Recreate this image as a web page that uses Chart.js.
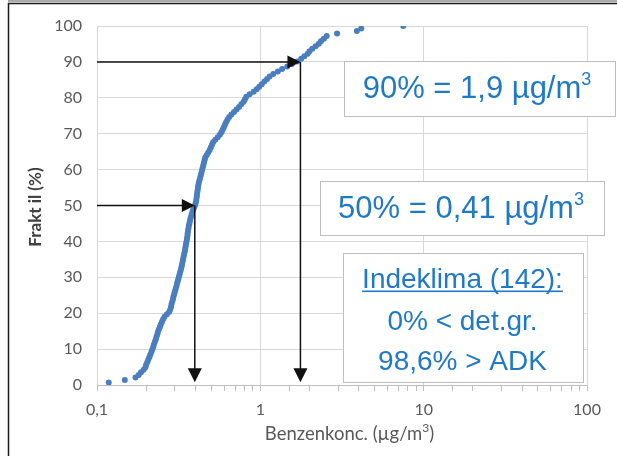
<!DOCTYPE html>
<html>
<head>
<meta charset="utf-8">
<script src="https://cdn.jsdelivr.net/npm/chart.js@4/dist/chart.umd.min.js"></script>
<style>
  html, body { margin: 0; padding: 0; background: #fff; }
  #wrap { width: 617px; height: 456px; position: relative; }
</style>
</head>
<body>
<div id="wrap"><canvas id="c" width="617" height="456"></canvas></div>
<script>
// ---- data ----
const concentrations = [
  0.118, 0.148, 0.172, 0.180, 0.186, 0.193, 0.198, 0.200, 0.203, 0.206,
  0.209, 0.212, 0.215, 0.218, 0.221, 0.223, 0.226, 0.229, 0.231, 0.234,
  0.236, 0.239, 0.243, 0.246, 0.250, 0.254, 0.259, 0.268, 0.277, 0.281,
  0.284, 0.286, 0.289, 0.292, 0.294, 0.297, 0.300, 0.303, 0.306, 0.309,
  0.312, 0.315, 0.318, 0.321, 0.324, 0.327, 0.330, 0.332, 0.335, 0.337,
  0.340, 0.342, 0.345, 0.347, 0.349, 0.351, 0.354, 0.356, 0.358, 0.359,
  0.361, 0.363, 0.365, 0.368, 0.371, 0.374, 0.378, 0.382, 0.386, 0.392,
  0.398, 0.402, 0.405, 0.407, 0.409, 0.411, 0.413, 0.415, 0.417, 0.420,
  0.424, 0.428, 0.432, 0.436, 0.440, 0.444, 0.448, 0.452, 0.456, 0.460,
  0.470, 0.480, 0.490, 0.498, 0.506, 0.514, 0.530, 0.548, 0.565, 0.578,
  0.588, 0.598, 0.608, 0.618, 0.630, 0.645, 0.665, 0.690, 0.715, 0.740,
  0.765, 0.790, 0.805, 0.820, 0.860, 0.910, 0.950, 0.985, 1.02, 1.06,
  1.10, 1.14, 1.20, 1.28, 1.36, 1.46, 1.56, 1.68, 1.78, 1.86,
  1.95, 2.00, 2.08, 2.18, 2.28, 2.35, 2.45, 2.55, 2.95, 3.90,
  4.15, 7.50
];
const fractiles = [
  0.70, 1.41, 2.11, 2.82, 3.52, 4.23, 4.93, 5.63, 6.34, 7.04,
  7.75, 8.45, 9.15, 9.86, 10.56, 11.27, 11.97, 12.68, 13.38, 14.08,
  14.79, 15.49, 16.20, 16.90, 17.61, 18.31, 19.01, 19.72, 20.42, 21.13,
  21.83, 22.54, 23.24, 23.94, 24.65, 25.35, 26.06, 26.76, 27.46, 28.17,
  28.87, 29.58, 30.28, 30.99, 31.69, 32.39, 33.10, 33.80, 34.51, 35.21,
  35.92, 36.62, 37.32, 38.03, 38.73, 39.44, 40.14, 40.85, 41.55, 42.25,
  42.96, 43.66, 44.37, 45.07, 45.77, 46.48, 47.18, 47.89, 48.59, 49.30,
  50.00, 50.70, 51.41, 52.11, 52.82, 53.52, 54.23, 54.93, 55.63, 56.34,
  57.04, 57.75, 58.45, 59.15, 59.86, 60.56, 61.27, 61.97, 62.68, 63.38,
  64.08, 64.79, 65.49, 66.20, 66.90, 67.61, 68.31, 69.01, 69.72, 70.42,
  71.13, 71.83, 72.54, 73.24, 73.94, 74.65, 75.35, 76.06, 76.76, 77.46,
  78.17, 78.87, 79.58, 80.28, 80.99, 81.69, 82.39, 83.10, 83.80, 84.51,
  85.21, 85.92, 86.62, 87.32, 88.03, 88.73, 89.44, 90.14, 90.85, 91.55,
  92.25, 92.96, 93.66, 94.37, 95.07, 95.77, 96.48, 97.18, 97.89, 98.59,
  99.30, 100.00
];
const xTickLabels = { "0.1": "0,1", "1": "1", "10": "10", "100": "100" };
const yTicks = [0, 10, 20, 30, 40, 50, 60, 70, 80, 90, 100];
const xTitle = "Benzenkonc. (µg/m";
const xTitleSup = "3";
const yTitle = "Frakt il (%)";
// percentile markers: [fractile %, concentration at arrow]
const markerFractiles = [90, 50];
const markerConcs = [1.76, 0.397];
const arrowBottom = 0.8;
const box90 = ["90% = 1,9 µg/m", "3"];
const box50 = ["50% = 0,41 µg/m", "3"];
const boxInfo = ["Indeklima (142):", "0% < det.gr.", "98,6% > ADK"];

const points = concentrations.map((c, i) => ({ x: c, y: fractiles[i] }));

const BLUE_TXT = '#1F79C4';
const isDecade = v => Math.abs(Math.log10(v) - Math.round(Math.log10(v))) < 1e-6;

function arrowHead(ctx, tx, ty, dir) {
  ctx.beginPath();
  if (dir === 'right') {
    ctx.moveTo(tx, ty); ctx.lineTo(tx - 13, ty - 6.5); ctx.lineTo(tx - 13, ty + 6.5);
  } else {
    ctx.moveTo(tx, ty); ctx.lineTo(tx - 7, ty - 14); ctx.lineTo(tx + 7, ty - 14);
  }
  ctx.closePath();
  ctx.fill();
}

function textWithSup(ctx, main, sup, cx, baseline, size, supSize) {
  ctx.font = size + 'px "Liberation Sans", Arial, sans-serif';
  const w1 = ctx.measureText(main).width;
  ctx.font = supSize + 'px "Liberation Sans", Arial, sans-serif';
  const w2 = ctx.measureText(sup).width;
  const x0 = cx - (w1 + w2) / 2;
  ctx.textAlign = 'left';
  ctx.textBaseline = 'alphabetic';
  ctx.font = size + 'px "Liberation Sans", Arial, sans-serif';
  ctx.fillText(main, x0, baseline);
  ctx.font = supSize + 'px "Liberation Sans", Arial, sans-serif';
  ctx.fillText(sup, x0 + w1, baseline - size * 0.42);
}

const overlay = {
  id: 'overlay',
  afterDatasetsDraw(chart) {
    const ctx = chart.ctx;
    const xs = chart.scales.x, ys = chart.scales.y;
    ctx.save();
    ctx.strokeStyle = '#111';
    ctx.fillStyle = '#111';
    ctx.lineWidth = 1.5;
    markerFractiles.forEach((f, i) => {
      const px = xs.getPixelForValue(markerConcs[i]);
      const py = ys.getPixelForValue(f);
      const left = xs.getPixelForValue(0.1);
      const bot = ys.getPixelForValue(arrowBottom);
      ctx.beginPath();
      ctx.moveTo(left, py); ctx.lineTo(px - 10, py);
      ctx.stroke();
      arrowHead(ctx, px, py, 'right');
      ctx.beginPath();
      ctx.moveTo(px, py); ctx.lineTo(px, bot - 10);
      ctx.stroke();
      arrowHead(ctx, px, bot, 'down');
    });
    ctx.restore();
  },
  afterDraw(chart) {
    const ctx = chart.ctx;
    ctx.save();
    // outer frame
    ctx.strokeStyle = '#1a1a1a';
    ctx.lineWidth = 1.5;
    ctx.beginPath();
    ctx.moveTo(8.5, 460); ctx.lineTo(8.5, 3.5); ctx.lineTo(620, 3.5);
    ctx.stroke();
    ctx.lineWidth = 1;
    ctx.strokeStyle = '#555';
    ctx.beginPath();
    ctx.moveTo(8, 1.0); ctx.lineTo(620, 1.0);
    ctx.stroke();

    // axis titles
    const F = 'Lato, "Open Sans", sans-serif';
    ctx.fillStyle = '#595959';
    ctx.textBaseline = 'alphabetic';
    ctx.textAlign = 'left';
    ctx.font = '18.5px ' + F;
    const w1 = ctx.measureText(xTitle).width;
    const w3 = ctx.measureText(')').width;
    ctx.font = '12px ' + F;
    const w2 = ctx.measureText(xTitleSup).width;
    const x0 = 349.5 - (w1 + w2 + w3) / 2;
    ctx.font = '18.5px ' + F;
    ctx.fillText(xTitle, x0, 440);
    ctx.fillText(')', x0 + w1 + w2, 440);
    ctx.font = '12px ' + F;
    ctx.fillText(xTitleSup, x0 + w1, 432);

    ctx.save();
    ctx.translate(36, 207);
    ctx.rotate(-Math.PI / 2);
    ctx.font = 'bold 17px ' + F;
    ctx.textAlign = 'center';
    ctx.textBaseline = 'middle';
    ctx.fillStyle = '#404040';
    ctx.fillText(yTitle, 0, 0);
    ctx.restore();

    // boxes
    function box(x, y, w, h) {
      ctx.fillStyle = '#fff';
      ctx.fillRect(x, y, w, h);
      ctx.strokeStyle = '#BFBFBF';
      ctx.lineWidth = 1;
      ctx.strokeRect(x + 0.5, y + 0.5, w, h);
    }
    box(344, 61, 271, 55);
    ctx.fillStyle = BLUE_TXT;
    textWithSup(ctx, box90[0], box90[1], 477, 98, 31, 18);

    box(320, 181, 284, 54);
    ctx.fillStyle = BLUE_TXT;
    textWithSup(ctx, box50[0], box50[1], 461, 218, 31, 18);

    box(343, 253, 240, 129);
    ctx.fillStyle = BLUE_TXT;
    ctx.font = '28px "Liberation Sans", Arial, sans-serif';
    ctx.textAlign = 'center';
    ctx.textBaseline = 'alphabetic';
    ctx.fillText(boxInfo[0], 462.5, 288);
    const uw = ctx.measureText(boxInfo[0]).width;
    ctx.fillRect(462.5 - uw / 2, 290.5, uw, 1.6);
    ctx.fillText(boxInfo[1], 462.5, 330);
    ctx.fillText(boxInfo[2], 462.5, 370);
    ctx.restore();
  }
};

new Chart(document.getElementById('c'), {
  type: 'scatter',
  data: {
    datasets: [{
      data: points,
      backgroundColor: '#4A7EBF',
      borderWidth: 0,
      pointRadius: 3,
      pointHoverRadius: 3
    }]
  },
  options: {
    responsive: false,
    animation: false,
    events: [],
    layout: { padding: { left: 0, right: 30, top: 26, bottom: 0 } },
    plugins: { legend: { display: false }, tooltip: { enabled: false } },
    scales: {
      x: {
        type: 'logarithmic',
        min: 0.1, max: 100,
        afterFit: s => { s.height = 71; },
        grid: {
          color: c => (c.tick && isDecade(c.tick.value)) ? '#D9D9D9' : 'rgba(0,0,0,0)',
          tickColor: '#BFBFBF',
          tickLength: 6,
          lineWidth: 1
        },
        border: { color: '#BFBFBF', width: 1 },
        ticks: {
          autoSkip: false,
          maxRotation: 0,
          padding: 9,
          color: '#595959',
          font: { family: 'Lato, "Open Sans", sans-serif', size: 16 },
          callback: v => {
            if (!isDecade(v)) return '';
            const k = String(Math.round(Math.log10(v)) === -1 ? 0.1 : Math.pow(10, Math.round(Math.log10(v))));
            return xTickLabels[k] || '';
          }
        }
      },
      y: {
        min: 0, max: 100,
        afterFit: s => { s.width = 97; },
        afterBuildTicks: s => { s.ticks = yTicks.map(v => ({ value: v })); },
        grid: { color: '#D9D9D9', drawTicks: false, lineWidth: 1 },
        border: { display: false },
        ticks: {
          padding: 15,
          color: '#595959',
          font: { family: 'Lato, "Open Sans", sans-serif', size: 16 }
        }
      }
    }
  },
  plugins: [overlay]
});
</script>
</body>
</html>
